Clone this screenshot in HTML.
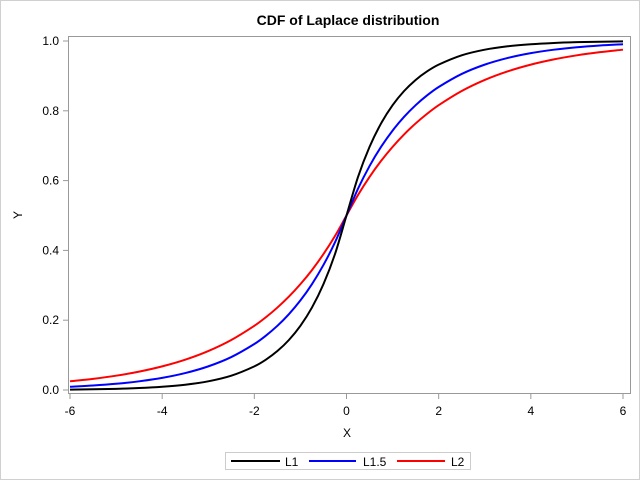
<!DOCTYPE html>
<html><head><meta charset="utf-8"><style>
body{margin:0;background:#fff}
svg{display:block;font-family:"Liberation Sans",sans-serif}
</style></head><body>
<svg width="640" height="480" viewBox="0 0 640 480" xmlns="http://www.w3.org/2000/svg">
<rect x="0.5" y="0.5" width="639" height="479" fill="#fff" stroke="#d0d0d0"/>
<text x="348" y="25" text-anchor="middle" font-size="14" font-weight="bold">CDF of Laplace distribution</text>
<rect x="68.5" y="36.5" width="562" height="357" fill="none" stroke="#999"/>
<g id="axes"></g>
<g id="series"></g>
<text x="347" y="437" text-anchor="middle" font-size="12">X</text>
<text x="22" y="215" text-anchor="middle" font-size="12" transform="rotate(-90 22 215)">Y</text>
<g>
<rect x="225.5" y="452.5" width="245" height="17" fill="#fff" stroke="#ccc"/>
<line x1="231" y1="461" x2="280" y2="461" stroke="#000" stroke-width="2"/>
<text x="285" y="466" font-size="12">L1</text>
<line x1="309" y1="461" x2="356" y2="461" stroke="#00f" stroke-width="2"/>
<text x="363" y="466" font-size="12">L1.5</text>
<line x1="397" y1="461" x2="445" y2="461" stroke="#f00" stroke-width="2"/>
<text x="451" y="466" font-size="12">L2</text>
</g>
</svg>
<script>
const xValues = [-6,-5.5,-5,-4.5,-4,-3.5,-3,-2.5,-2,-1.75,-1.5,-1.25,-1,-0.75,-0.5,-0.25,0,0.25,0.5,0.75,1,1.25,1.5,1.75,2,2.5,3,3.5,4,4.5,5,5.5,6];
const seriesL1 = [0.0012,0.0020,0.0034,0.0056,0.0092,0.0151,0.0249,0.0410,0.0677,0.0869,0.1116,0.1433,0.1839,0.2362,0.3033,0.3894,0.5,0.6106,0.6967,0.7638,0.8161,0.8567,0.8884,0.9131,0.9323,0.9590,0.9751,0.9849,0.9908,0.9944,0.9966,0.9980,0.9988];
const seriesL15 = [0.0092,0.0128,0.0178,0.0249,0.0347,0.0485,0.0677,0.0944,0.1318,0.1557,0.1839,0.2173,0.2567,0.3033,0.3583,0.4232,0.5,0.5768,0.6417,0.6967,0.7433,0.7827,0.8161,0.8443,0.8682,0.9056,0.9323,0.9515,0.9653,0.9751,0.9822,0.9872,0.9908];
const seriesL2 = [0.0249,0.0320,0.0410,0.0527,0.0677,0.0869,0.1116,0.1433,0.1839,0.2084,0.2362,0.2676,0.3033,0.3436,0.3894,0.4412,0.5,0.5588,0.6106,0.6564,0.6967,0.7324,0.7638,0.7916,0.8161,0.8567,0.8884,0.9131,0.9323,0.9473,0.9590,0.9680,0.9751];
const xTicks = [-6,-4,-2,0,2,4,6];
const yTicks = [0.0,0.2,0.4,0.6,0.8,1.0];
const NS="http://www.w3.org/2000/svg";
function sx(v){return 70+(v+6)/12*553;}
function sy(v){return 390-v*349;}
const axes=document.getElementById('axes');
xTicks.forEach(t=>{
  const l=document.createElementNS(NS,'line');
  
  
  l.setAttribute('x1',sx(t));l.setAttribute('x2',sx(t));l.setAttribute('y1',394);l.setAttribute('y2',399);l.setAttribute('stroke','#999');
  axes.appendChild(l);
  const tx=document.createElementNS(NS,'text');
  
  
  tx.setAttribute('x',sx(t));tx.setAttribute('y',415);tx.setAttribute('text-anchor','middle');tx.setAttribute('font-size','12');
  tx.textContent=String(t);axes.appendChild(tx);
});
yTicks.forEach(t=>{
  const l=document.createElementNS(NS,'line');
  
  
  l.setAttribute('x1',63);l.setAttribute('x2',68);l.setAttribute('y1',sy(t));l.setAttribute('y2',sy(t));l.setAttribute('stroke','#999');
  axes.appendChild(l);
  const tx=document.createElementNS(NS,'text');
  
  
  tx.setAttribute('x',59);tx.setAttribute('y',sy(t)+4);tx.setAttribute('text-anchor','end');tx.setAttribute('font-size','12');
  tx.textContent=t.toFixed(1);axes.appendChild(tx);
});
function pathFor(vals){
  const p=xValues.map((x,i)=>[sx(x),sy(vals[i])]);
  let d='M'+p[0][0]+','+p[0][1];
  for(let i=0;i<p.length-1;i++){
    const p0=p[Math.max(0,i-1)],p1=p[i],p2=p[i+1],p3=p[Math.min(p.length-1,i+2)];
    const h=p2[0]-p1[0];
    const m1=(p2[1]-p0[1])/(p2[0]-p0[0]||1), m2=(p3[1]-p1[1])/(p3[0]-p1[0]||1);
    const c1=[p1[0]+h/3,p1[1]+m1*h/3];
    const c2=[p2[0]-h/3,p2[1]-m2*h/3];
    d+=' C'+c1+' '+c2+' '+p2;
  }
  return d;
}
const g=document.getElementById('series');
[[seriesL2,'#f00','series-l2'],[seriesL15,'#00f','series-l1-5'],[seriesL1,'#000','series-l1']].forEach(s=>{
  const pa=document.createElementNS(NS,'path');
  
  
  pa.setAttribute('d',pathFor(s[0]));pa.setAttribute('fill','none');pa.setAttribute('stroke',s[1]);pa.setAttribute('stroke-width','2');
  g.appendChild(pa);
});
</script>
</body></html>
